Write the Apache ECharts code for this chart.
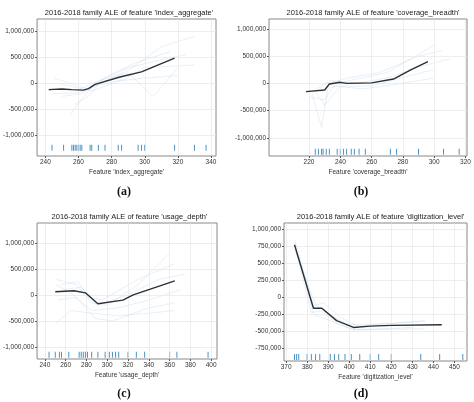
<!DOCTYPE html>
<html>
<head>
<meta charset="utf-8">
<script src="https://cdn.jsdelivr.net/npm/echarts@6/dist/echarts.min.js"></script>
<style>
html,body{margin:0;padding:0;background:#fff;}
#main{width:474px;height:402px;}
</style>
</head>
<body>
<div id="main"></div>
<script>
// 标题与标签
var titles=["2016-2018 family ALE of feature 'index_aggregate'","2016-2018 family ALE of feature 'coverage_breadth'",
  "2016-2018 family ALE of feature 'usage_depth'","2016-2018 family ALE of feature 'digitization_level'"];
var xNames=["Feature 'index_aggregate'","Feature 'coverage_breadth'","Feature 'usage_depth'","Feature 'digitization_level'"];
var panelLetters=["(a)","(b)","(c)","(d)"];

// 刻度
var xTicksA=[240,260,280,300,320,340];
var xTicksB=[220,240,260,280,300,320];
var xTicksC=[240,260,280,300,320,340,360,380,400];
var xTicksD=[370,380,390,400,410,420,430,440,450];
var yTicksABC=[-1000000,-500000,0,500000,1000000];
var yTicksD=[-750000,-500000,-250000,0,250000,500000,750000,1000000];

// 平均ALE曲线
var meanA=[[242,-120000],[250,-110000],[256,-120000],[263,-130000],[266,-100000],[270,-20000],[285,120000],[298,220000],[318,480000]];
var meanB=[[218,-150000],[230,-120000],[233,-10000],[240,20000],[244,0],[260,10000],[274,80000],[285,250000],[296,400000]];
var meanC=[[250,60000],[268,80000],[279,40000],[291,-170000],[315,-100000],[325,0],[365,270000]];
var meanD=[[374,770000],[383,-160000],[387,-160000],[394,-340000],[402,-440000],[410,-420000],[420,-410000],[444,-400000]];

// 背景细线(单次估计)
var bgA=[
 [[250,-250000],[262,-200000],[270,-50000],[290,250000],[310,700000],[330,900000]],
 [[245,100000],[260,-50000],[268,-150000],[285,50000],[300,100000],[320,150000]],
 [[255,-600000],[262,-300000],[270,0],[290,300000],[310,450000],[325,550000]],
 [[248,0],[262,-100000],[272,50000],[290,200000],[305,-250000],[320,300000]],
 [[258,-400000],[266,-250000],[275,100000],[295,400000],[315,600000]],
 [[244,-200000],[260,-180000],[270,-50000],[288,80000],[300,300000],[330,350000]]
];
var bgB=[
 [[222,-200000],[228,-800000],[232,-100000],[245,50000],[270,200000],[300,700000]],
 [[225,-100000],[232,0],[245,100000],[265,200000],[290,500000],[305,600000]],
 [[220,-250000],[230,-300000],[236,-50000],[255,-100000],[280,0],[300,100000]],
 [[226,-50000],[234,50000],[250,0],[270,100000],[290,300000],[310,450000]],
 [[224,-150000],[230,-400000],[240,-50000],[260,-50000],[285,150000],[300,250000]]
];
var bgC=[
 [[250,300000],[270,200000],[285,-150000],[300,-200000],[330,200000],[360,800000]],
 [[250,-550000],[265,-300000],[285,-350000],[310,-400000],[340,-350000],[365,-300000]],
 [[255,200000],[272,250000],[282,-50000],[295,-100000],[330,300000],[365,600000]],
 [[252,-100000],[270,-50000],[285,-300000],[310,-250000],[340,-100000],[370,100000]],
 [[258,100000],[275,150000],[290,-200000],[320,0],[350,300000],[375,400000]],
 [[250,200000],[268,0],[288,-450000],[305,-500000],[340,-250000],[365,-150000]]
];
var bgD=[
 [[374,850000],[383,-120000],[388,-80000],[396,-300000],[404,-420000],[436,-340000]],
 [[375,650000],[382,-220000],[387,-200000],[394,-380000],[402,-470000],[436,-460000]],
 [[374,700000],[384,-100000],[390,-250000],[400,-400000],[420,-380000],[436,-350000]],
 [[376,600000],[383,-250000],[392,-350000],[402,-480000],[430,-440000]]
];

// 地毯图刻度
var rugA=[244,251,256,257,258,259,260,261,262,267,268,272,276,284,286,296,298,300,318,330,337];
var rugB=[224,226,228,229,231,233,238,240,242,244,247,249,252,256,272,276,290,306,316];
var rugC=[244,250,254,256,263,273,275,277,279,281,285,291,298,302,305,308,311,320,328,336,360,367,397];
var rugD=[374,375,376,380,382,384,386,391,393,395,398,401,405,410,414,420,434,443,454];

var panels=[
 {grid:{left:32,top:19,width:184,height:137},x:[235,343],y:[-1390000,1230000],xt:xTicksA,yt:yTicksABC,mean:meanA,bg:bgA,rug:rugA,rugY:-1230000},
 {grid:{left:269,top:19,width:198,height:137},x:[194.4,321],y:[-1330000,1180000],xt:xTicksB,yt:yTicksABC,mean:meanB,bg:bgB,rug:rugB,rugY:-1250000},
 {grid:{left:32,top:223,width:185,height:136},x:[232.5,405.6],y:[-1230000,1380000],xt:xTicksC,yt:yTicksABC,mean:meanC,bg:bgC,rug:rugC,rugY:-1150000},
 {grid:{left:284,top:223,width:183,height:138},x:[369,456],y:[-930000,1087000],xt:xTicksD,yt:yTicksD,mean:meanD,bg:bgD,rug:rugD,rugY:-870000}
];

function fmtNum(v){
	var s=Math.abs(v).toString().replace(/\B(?=(\d{3})+(?!\d))/g,',');
	return (v<0?'-':'')+s;
}

var grids=[],xAxes=[],yAxes=[],series=[],titleArr=[];
var letterPos=[[119,190],[356,190],[119,392],[356,392]];
for(var i=0;i<panels.length;i++){
	var p=panels[i];
	grids.push({left:p.grid.left,top:p.grid.top,width:p.grid.width,height:p.grid.height,
		show:true,borderColor:'#888',borderWidth:1,backgroundColor:'#fff'});
	xAxes.push({type:'value',gridIndex:i,min:p.x[0],max:p.x[1],
		name:xNames[i],nameLocation:'middle',nameGap:13,nameTextStyle:{fontSize:6.5,color:'#333'},
		axisLine:{show:false,onZero:false},
		axisTick:{show:true,customValues:p.xt,length:2,lineStyle:{color:'#555'}},
		axisLabel:{customValues:p.xt,fontSize:6.5,color:'#333',margin:3},
		splitLine:{show:false}});
	yAxes.push({type:'value',gridIndex:i,min:p.y[0],max:p.y[1],
		axisLine:{show:false,onZero:false},
		axisTick:{show:true,customValues:p.yt,length:2,lineStyle:{color:'#555'}},
		axisLabel:{customValues:p.yt,fontSize:6.5,color:'#333',margin:3,formatter:fmtNum},
		splitLine:{show:false}});
	titleArr.push({text:titles[i],left:p.grid.left+p.grid.width/2,top:p.grid.top-15,textAlign:'center',
		textStyle:{fontSize:7.5,fontWeight:'normal',color:'#222'}});
	titleArr.push({text:panelLetters[i],left:letterPos[i][0],top:letterPos[i][1]-9,textAlign:'center',
		textStyle:{fontSize:12,fontWeight:'bold',fontFamily:'Liberation Serif',color:'#111'}});
	// 网格线
	var gl=[];
	for(var a=0;a<p.xt.length;a++){if(p.xt[a]>p.x[0]&&p.xt[a]<p.x[1])gl.push({xAxis:p.xt[a]});}
	for(var b=0;b<p.yt.length;b++){gl.push({yAxis:p.yt[b]});}
	series.push({type:'line',xAxisIndex:i,yAxisIndex:i,data:[],silent:true,z:1,
		markLine:{symbol:'none',silent:true,label:{show:false},animation:false,
			lineStyle:{color:'#e3e3e3',width:0.6,type:'solid'},data:gl}});
	for(var j=0;j<p.bg.length;j++){
		series.push({type:'line',xAxisIndex:i,yAxisIndex:i,data:p.bg[j],showSymbol:false,silent:true,z:2,
			lineStyle:{color:'rgba(110,165,210,0.28)',width:0.6}});
	}
	series.push({type:'line',xAxisIndex:i,yAxisIndex:i,data:p.mean,showSymbol:false,
		lineStyle:{color:'#2b2f36',width:1.4},z:5});
	var rugData=[];
	for(var k=0;k<p.rug.length;k++){rugData.push([p.rug[k],p.rugY]);}
	series.push({type:'scatter',xAxisIndex:i,yAxisIndex:i,data:rugData,symbol:'rect',symbolSize:[1,6],
		itemStyle:{color:'#1f77b4'},z:4});
}

var myChart=echarts.init(document.getElementById('main'));
myChart.setOption({
	animation:false,
	backgroundColor:'#fff',
	title:titleArr,
	grid:grids,
	xAxis:xAxes,
	yAxis:yAxes,
	series:series
});
</script>
</body>
</html>
